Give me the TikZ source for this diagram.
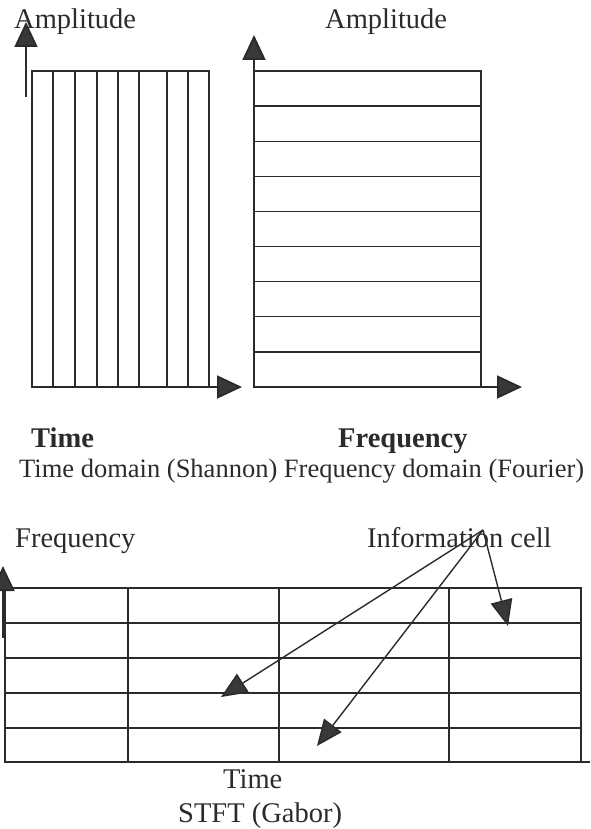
\documentclass[tikz,border=0pt]{standalone}
\usepackage{fontspec}
\setmainfont{Liberation Serif}
\usetikzlibrary{arrows.meta}
\definecolor{ink}{HTML}{2B2B2B}
\definecolor{headfill}{HTML}{383838}
\begin{document}
\begin{tikzpicture}[x=1pt,y=-1pt,
  grid/.style={draw=ink, line width=1.3pt},
  axis/.style={draw=ink, line width=1.9pt, -{Triangle[length=25pt,width=23pt,fill=headfill]}},
  pointer/.style={draw=ink, line width=1.4pt, -{Triangle[length=26pt,width=22pt,fill=headfill]}},
  lbl/.style={anchor=base west, inner sep=0pt, text=ink, font=\fontsize{28.5}{34}\selectfont},
  caption/.style={anchor=base west, inner sep=0pt, text=ink, font=\fontsize{26.5}{32}\selectfont},
  boldlbl/.style={anchor=base west, inner sep=0pt, text=ink, font=\fontsize{28.5}{34}\selectfont\bfseries}]
\useasboundingbox (0,0) rectangle (590,829);

% ---------- time domain (Shannon): vertical strips ----------
\draw[grid] (32,71) rectangle (209,387);
\foreach \x in {53,75,97,118,139,167,188}
  \draw[grid] (\x,71) -- (\x,387);
\coordinate (tA0) at (26,97);
\coordinate (tA1) at (26,22);
\draw[axis] (tA0) -- (tA1);
\coordinate (tT0) at (167,387);
\coordinate (tT1) at (242,387);
\draw[axis] (tT0) -- (tT1);

% ---------- frequency domain (Fourier): horizontal strips ----------
\draw[grid] (254,71) rectangle (481,387);
\foreach \k in {1,...,8}
  \draw[grid] (254,{71+35.11*\k}) -- (481,{71+35.11*\k});
\coordinate (fA0) at (254,107);
\coordinate (fA1) at (254,35);
\draw[axis] (fA0) -- (fA1);
\coordinate (fF0) at (448,387);
\coordinate (fF1) at (522,387);
\draw[axis] (fF0) -- (fF1);

% ---------- labels of the upper panels ----------
\node[lbl] (ampL) at (14,29) {Amplitude};
\node[lbl] (ampR) at (325,29) {Amplitude};
\node[boldlbl] (timeB) at (31,447) {Time};
\node[boldlbl] (freqB) at (338,447) {Frequency};
\node[caption] (capTop) at (19,477) {Time domain (Shannon) Frequency domain (Fourier)};

% ---------- STFT (Gabor) tiling ----------
\draw[grid] (5,588) rectangle (581,762);
\foreach \y in {623,658,693,728}
  \draw[grid] (5,\y) -- (581,\y);
\foreach \x in {128,279,449}
  \draw[grid] (\x,588) -- (\x,762);
\coordinate (sF0) at (3,638);
\coordinate (sF1) at (3,566);
\draw[axis] (sF0) -- (sF1);
\coordinate (sT0) at (524,762);
\coordinate (sT1) at (590,762);
\draw[draw=ink, line width=2.2pt] (sT0) -- (sT1);

\node[lbl] (freqS) at (15,547) {Frequency};
\node[lbl] (info) at (367,547) {Information cell};
\node[lbl] (timeS) at (223,788) {Time};
\node[lbl] (stft) at (178,822) {STFT (Gabor)};

% pointers from the "Information cell" label into three cells
\coordinate (src) at (483,530);
\coordinate (cellA) at (221,697);
\coordinate (cellB) at (317,746);
\coordinate (cellC) at (508,626);
\draw[pointer] (src) -- (cellA);
\draw[pointer] (src) -- (cellB);
\draw[pointer] (src) -- (cellC);
\end{tikzpicture}
\end{document}
